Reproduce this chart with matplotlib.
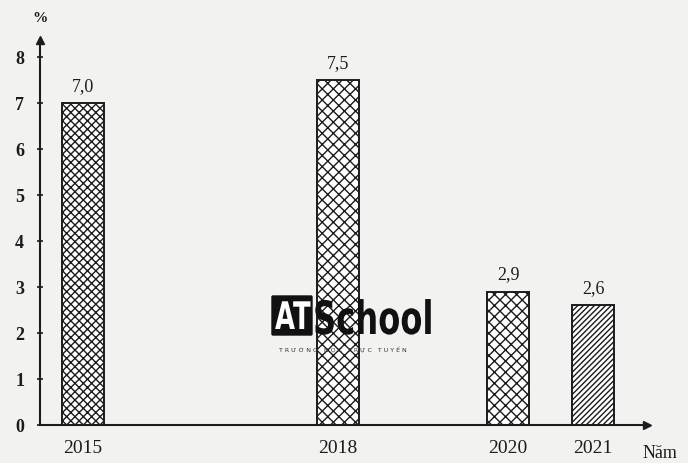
import matplotlib.pyplot as plt
from matplotlib.patches import FancyBboxPatch, PathPatch
from matplotlib.textpath import TextPath
from matplotlib.font_manager import FontProperties
from matplotlib.transforms import Affine2D

years = [2015, 2018, 2020, 2021]
values = [7.0, 7.5, 2.9, 2.6]
value_labels = ["7,0", "7,5", "2,9", "2,6"]
hatches = ["xxxx", "xxx", "xxx", "//////"]
y_ticks = [0, 1, 2, 3, 4, 5, 6, 7, 8]

plt.rcParams['font.family'] = ['Liberation Serif', 'DejaVu Serif']
plt.rcParams['hatch.linewidth'] = 1.0

ink = "#1c1c1c"
bg = "#f2f2f1"

fig = plt.figure(figsize=(6.88, 4.63), dpi=100, facecolor=bg)
ax = fig.add_axes([40 / 688, 1 - 425 / 463, 607 / 688, 385 / 463])
ax.set_facecolor(bg)

ax.set_xlim(2014.494, 2015 + 564 / 85)
ax.set_ylim(0, 8.37)

ax.bar(years, values, width=0.5, color="white", edgecolor=ink,
       linewidth=1.4, hatch=hatches, zorder=2)

for x, v, lab in zip(years, values, value_labels):
    ax.annotate(lab, (x, v), xytext=(0, 6), textcoords="offset points",
                ha="center", va="bottom", fontsize=13, color=ink)

for side in ("top", "right"):
    ax.spines[side].set_visible(False)
for side in ("left", "bottom"):
    ax.spines[side].set_color(ink)
    ax.spines[side].set_linewidth(1.5)

# arrow heads at the ends of both axes
ax.plot(1, 0, ">", color=ink, ms=6, transform=ax.transAxes, clip_on=False)
ax.plot(0, 1, "^", color=ink, ms=6, transform=ax.transAxes, clip_on=False)

ax.set_yticks(y_ticks)
ax.set_yticklabels([str(t) for t in y_ticks])
ax.set_xticks(years)
ax.set_xticklabels([str(y) for y in years])
ax.tick_params(axis="y", direction="inout", length=5, width=1.2, colors=ink,
               labelsize=13, pad=9)
ax.tick_params(axis="x", length=0, colors=ink, labelsize=14, pad=11)
for lbl in ax.get_yticklabels():
    lbl.set_fontweight("bold")

fig.text(40 / 688, 1 - 18 / 463, "%", ha="center", va="center",
         fontsize=11, color=ink, fontweight="bold")
fig.text(643 / 688, 1 - 454 / 463, "Năm", ha="left", va="center",
         fontsize=13, color=ink)

# school logo, drawn in pixel coordinates (y downward)
logo_ax = fig.add_axes([0, 0, 1, 1], facecolor="none")
logo_ax.set_xlim(0, 688)
logo_ax.set_ylim(463, 0)
logo_ax.axis("off")
logo_ax.add_patch(FancyBboxPatch((273, 297), 38, 37, boxstyle="round,pad=1",
                                 facecolor="#111111", edgecolor="#111111"))

bold_sans = FontProperties(family="DejaVu Sans", weight="bold")


def condensed_word(word, x0, baseline, height, squeeze, color):
    path = TextPath((0, 0), word, size=1, prop=bold_sans)
    tr = Affine2D().scale(height * squeeze, -height).translate(x0, baseline)
    logo_ax.add_patch(PathPatch(tr.transform_path(path), facecolor=color,
                                edgecolor="none"))


condensed_word("AT", 275, 329, 38, 0.68, "white")
condensed_word("School", 313, 334, 46, 0.7, "#111111")
logo_ax.text(343, 350, "T R Ư Ờ N G   H Ọ C   T R Ự C   T U Y Ế N",
             ha="center", va="center", fontsize=4.5, color="#333333",
             family="DejaVu Sans")

fig.savefig("out.png", dpi=100, facecolor=bg)
